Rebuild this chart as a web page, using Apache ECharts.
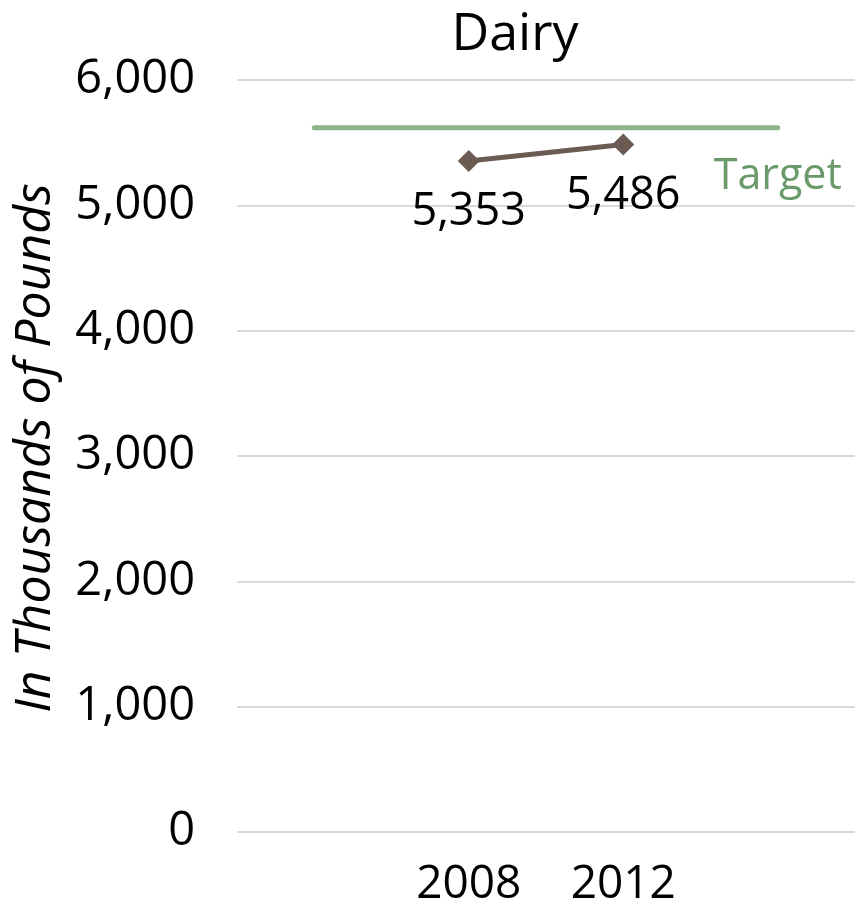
<!DOCTYPE html>
<html>
<head>
<meta charset="utf-8">
<script src="https://cdn.jsdelivr.net/npm/echarts@6/dist/echarts.min.js"></script>
<style>html,body{margin:0;padding:0;background:#fff}#c{width:864px;height:908px}</style>
</head>
<body>
<div id="c"></div>
<script>
const categories = ['', '2008', '2012', ''];
const dairyValues = [null, 5353, 5486, null];
const targetValues = [5620, 5620, 5620, 5620];
const targetLabel = 'Target';
const yTicks = { min: 0, max: 6000, interval: 1000 };
const FONT = 'Open Sans';

const chart = echarts.init(document.getElementById('c'));
chart.setOption({
  animation: false,
  backgroundColor: '#fff',
  title: {
    text: 'Dairy', left: 510, top: 4, textAlign: 'center',
    textStyle: { fontFamily: FONT, fontSize: 52, fontWeight: 'normal', color: '#000' }
  },
  grid: { left: 237, right: 9, top: 80, bottom: 75 },
  xAxis: {
    type: 'category', data: categories, boundaryGap: true,
    axisLine: { show: false }, axisTick: { show: false },
    axisLabel: { fontFamily: FONT, fontSize: 46, color: '#000', margin: 30, interval: 0 }
  },
  yAxis: {
    type: 'value', min: yTicks.min, max: yTicks.max, interval: yTicks.interval,
    name: 'In Thousands of Pounds', nameLocation: 'middle', nameGap: 176,
    nameTextStyle: { fontFamily: FONT, fontSize: 50, fontStyle: 'italic', color: '#000', padding: [0, 0, 0, 16] },
    axisLine: { show: false }, axisTick: { show: false },
    splitLine: { lineStyle: { color: '#d9d9d9', width: 2 } },
    axisLabel: {
      fontFamily: FONT, fontSize: 47, color: '#000', margin: 42,
      formatter: v => v.toLocaleString('en-US')
    }
  },
  series: [
    {
      name: 'Target', type: 'line', data: targetValues,
      symbol: 'circle', symbolSize: 2, showSymbol: true,
      itemStyle: { color: '#8db38d' },
      lineStyle: { color: '#8db38d', width: 5, cap: 'round' },
      label: {
        show: true, position: 'bottom', distance: 27,
        fontFamily: FONT, fontSize: 43, color: '#6a9a6a',
        formatter: p => p.dataIndex === targetValues.length - 1 ? targetLabel : ''
      }
    },
    {
      name: 'Dairy', type: 'line', data: dairyValues, connectNulls: false,
      symbol: 'diamond', symbolSize: [22, 22], showSymbol: true,
      itemStyle: { color: '#6b5b53' },
      lineStyle: { color: '#6b5b53', width: 5 },
      label: {
        show: true, position: 'bottom', distance: 18,
        fontFamily: FONT, fontSize: 45, color: '#000',
        formatter: p => p.value.toLocaleString('en-US')
      }
    }
  ]
});
</script>
</body>
</html>
